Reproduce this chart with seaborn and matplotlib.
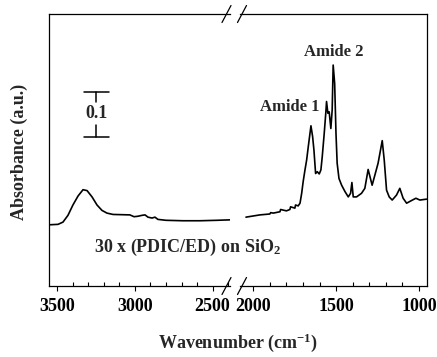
import matplotlib
matplotlib.use("Agg")
import matplotlib.pyplot as plt
import seaborn as sns
import pandas as pd
from matplotlib.lines import Line2D
from matplotlib.ticker import MultipleLocator

# spectrum, high wavenumber part (cm-1, absorbance)
wn_high = [3553, 3495, 3463, 3431, 3399, 3366, 3334, 3308, 3276, 3244, 3212,
           3180, 3141, 3032, 3006, 2980, 2955, 2935, 2916, 2890, 2871, 2852,
           2800, 2691, 2581, 2472, 2388]
abs_high = [0.136, 0.137, 0.142, 0.157, 0.180, 0.200, 0.214, 0.212, 0.198,
            0.180, 0.168, 0.162, 0.159, 0.158, 0.154, 0.155, 0.157, 0.158,
            0.153, 0.151, 0.153, 0.148, 0.146, 0.145, 0.145, 0.146, 0.147]

# fingerprint part
wn_low = [2044, 1960, 1900, 1895, 1879, 1839, 1835, 1800, 1779, 1775, 1749,
          1745, 1729, 1718, 1708, 1699, 1688, 1678, 1668, 1652, 1642, 1634,
          1624, 1614, 1602, 1592, 1584, 1572, 1562, 1558, 1550, 1542, 1532,
          1524, 1518, 1509, 1501, 1494, 1483, 1467, 1447, 1427, 1413, 1405,
          1397, 1377, 1347, 1327, 1307, 1283, 1266, 1247, 1222, 1210, 1196,
          1180, 1162, 1136, 1116, 1096, 1075, 1045, 1019, 995, 955]
abs_low = [0.153, 0.158, 0.160, 0.163, 0.162, 0.165, 0.170, 0.167, 0.170,
           0.176, 0.173, 0.180, 0.178, 0.184, 0.206, 0.232, 0.258, 0.280,
           0.310, 0.356, 0.332, 0.302, 0.250, 0.254, 0.249, 0.258, 0.287,
           0.339, 0.387, 0.410, 0.384, 0.387, 0.350, 0.391, 0.491, 0.450,
           0.339, 0.273, 0.239, 0.224, 0.210, 0.198, 0.206, 0.230, 0.198,
           0.198, 0.206, 0.217, 0.259, 0.224, 0.247, 0.273, 0.323, 0.280,
           0.213, 0.198, 0.191, 0.202, 0.217, 0.195, 0.184, 0.190, 0.195,
           0.191, 0.193]

left_ticks = [3500, 3000, 2500]
right_ticks = [2000, 1500, 1000]

sns.set_style("ticks")
plt.rcParams["font.family"] = ["Liberation Serif", "DejaVu Serif"]
plt.rcParams["font.weight"] = "bold"
plt.rcParams["mathtext.fontset"] = "custom"
plt.rcParams["mathtext.rm"] = "Liberation Serif:bold"
plt.rcParams["mathtext.default"] = "rm"

W, H = 437, 357
fig = plt.figure(figsize=(W / 100, H / 100), dpi=100)


def box(x0, x1, y0=14, y1=286):
    return [x0 / W, 1 - y1 / H, (x1 - x0) / W, (y1 - y0) / H]


ax1 = fig.add_axes(box(49, 230))
ax2 = fig.add_axes(box(240, 427))
ylim = (0, 272 / 450)

df_high = pd.DataFrame({"wn": wn_high, "a": abs_high})
df_low = pd.DataFrame({"wn": wn_low, "a": abs_low})
sns.lineplot(data=df_high, x="wn", y="a", ax=ax1, color="black", lw=1.2,
             sort=False, estimator=None)
sns.lineplot(data=df_low, x="wn", y="a", ax=ax2, color="black", lw=1.2,
             sort=False, estimator=None)

ax1.set_xlim(3553, 2388)
ax2.set_xlim(2080, 952)
for ax, ticks in [(ax1, left_ticks), (ax2, right_ticks)]:
    ax.set_ylim(*ylim)
    ax.set_xticks(ticks)
    ax.set_xticklabels([str(t) for t in ticks])
    ax.xaxis.set_minor_locator(MultipleLocator(100))
    ax.tick_params(axis="x", which="both", bottom=True, top=False,
                   color="black")
    ax.tick_params(axis="x", which="major", direction="out", length=3.5,
                   width=0.8, pad=5, labelsize=13, labelcolor="black")
    ax.tick_params(axis="x", which="minor", direction="in", length=2.8,
                   width=0.8)
    ax.set_yticks([])
    ax.tick_params(axis="y", left=False, right=False)
    ax.set_xlabel("")
    ax.set_ylabel("")
    ax.patch.set_alpha(0)
    for s in ax.spines.values():
        s.set_visible(True)
        s.set_color("black")
        s.set_linewidth(0.9)
ax1.spines["right"].set_visible(False)
ax2.spines["left"].set_visible(False)

# break marks
for xc in (226.5, 242):
    for yc in (14, 286):
        fig.add_artist(Line2D([(xc - 4.5) / W, (xc + 4.5) / W],
                              [1 - (yc + 8.5) / H, 1 - (yc - 8.5) / H],
                              color="black", lw=0.9))

# 0.1 scale bar
bx = [3328, 3167]
ax1.plot(bx, [(286 - 91.7) / 450] * 2, color="black", lw=1.1)
ax1.plot(bx, [(286 - 136.7) / 450] * 2, color="black", lw=1.1)
ax1.plot([3250, 3250], [(286 - 91.7) / 450, (286 - 101.5) / 450], color="black", lw=1.1)
ax1.plot([3250, 3250], [(286 - 125) / 450, (286 - 136.7) / 450], color="black", lw=1.1)
ax1.text(3250, (286 - 113) / 450, "0.1", ha="center", va="center", fontsize=13)

ax2.text(1514, (286 - 52) / 450, "Amide 2", ha="center", va="center", fontsize=12)
ax2.text(1779, (286 - 107) / 450, "Amide 1", ha="center", va="center", fontsize=12)
fig.text(187 / W, 1 - 247 / H, "30 x (PDIC/ED) on SiO$_2$", ha="center",
         va="center", fontsize=13)

fig.text(238 / W, 1 - 343 / H, "Wavenumber (cm$^{-1}$)", ha="center",
         va="center", fontsize=13)
fig.text(19 / W, 1 - 152 / H, "Absorbance (a.u.)", ha="center", va="center",
         rotation=90, fontsize=13)

fig.savefig("out.png", dpi=100)
